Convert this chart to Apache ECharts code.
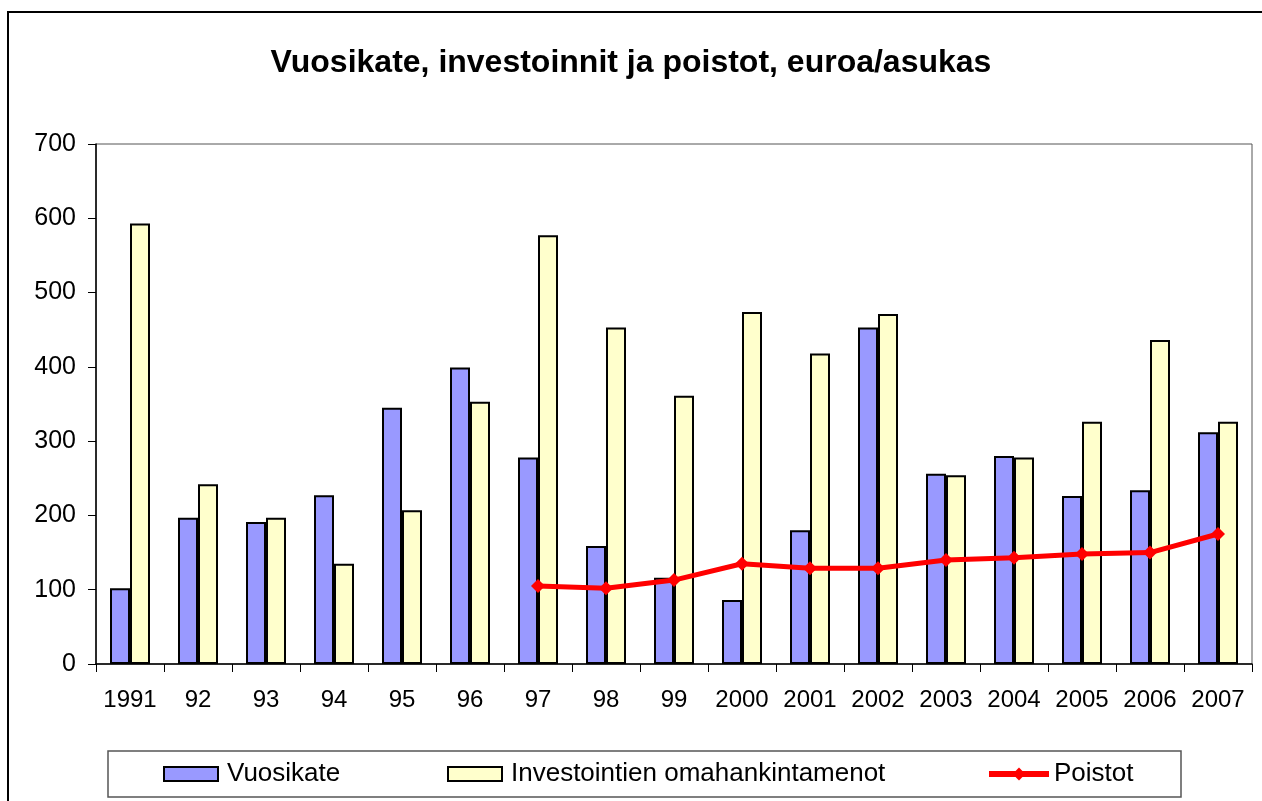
<!DOCTYPE html>
<html>
<head>
<meta charset="utf-8">
<script src="https://cdn.jsdelivr.net/npm/echarts@6/dist/echarts.min.js"></script>
<style>
  html, body { margin: 0; padding: 0; background: #fff; }
  #chart { width: 1262px; height: 801px; }
</style>
</head>
<body>
<div id="chart"></div>
<script>
// vuodet
var years = ['1991', '92', '93', '94', '95', '96', '97', '98', '99', '2000', '2001', '2002', '2003', '2004', '2005', '2006', '2007'];
// euroa/asukas
var vuosikate = [102, 197, 191, 227, 345, 399, 278, 159, 116, 86, 180, 453, 256, 280, 226, 234, 312];
var investoinnit = [593, 242, 197, 135, 207, 353, 577, 453, 361, 474, 418, 471, 254, 278, 326, 436, 326];
var poistot = ['-', '-', '-', '-', '-', '-', 105, 102, 113, 135, 129, 129, 140, 143, 148, 150, 175];
var yTicks = [0, 100, 200, 300, 400, 500, 600, 700];

var chart = echarts.init(document.getElementById('chart'));
var font = 'Liberation Sans, Arial, sans-serif';

var legendBase = {
    top: 761,
    padding: 0,
    itemHeight: 14,
    textStyle: { fontFamily: font, fontSize: 26, color: '#000', padding: [0, 0, 0, 4] }
};

var option = {
    animation: false,
    backgroundColor: '#fff',
    title: {
        text: 'Vuosikate, investoinnit ja poistot, euroa/asukas',
        left: 'center',
        top: 42,
        textStyle: { fontFamily: font, fontSize: 32, fontWeight: 'bold', color: '#000' }
    },
    // kolme erillistä legendaa, jotta sijainnit osuvat
    legend: [
        Object.assign({}, legendBase, { left: 163, itemWidth: 54, icon: 'rect', data: ['Vuosikate'] }),
        Object.assign({}, legendBase, { left: 447, itemWidth: 54, icon: 'rect', data: ['Investointien omahankintamenot'] }),
        Object.assign({}, legendBase, {
            left: 986, itemWidth: 60, itemHeight: 16, data: ['Poistot'],
            lineStyle: { width: 6, color: '#FF0000' },
            textStyle: { fontFamily: font, fontSize: 26, color: '#000', padding: [0, 0, 0, 0] }
        })
    ],
    grid: {
        left: 96, right: 10, top: 144, bottom: 137,
        show: true,
        borderColor: '#555',
        borderWidth: 1
    },
    xAxis: {
        type: 'category',
        data: years,
        axisLine: { lineStyle: { color: '#000', width: 1.5 } },
        axisTick: { show: true, length: 8, lineStyle: { color: '#000' } },
        axisLabel: { fontFamily: font, fontSize: 24, color: '#000', margin: 24, interval: 0 }
    },
    yAxis: {
        type: 'value',
        min: 0,
        max: 700,
        interval: 100,
        splitLine: { show: false },
        axisLine: { show: true, lineStyle: { color: '#000', width: 1.5 } },
        axisTick: { show: true, length: 8, lineStyle: { color: '#000' } },
        axisLabel: {
            fontFamily: font, fontSize: 25, color: '#000', margin: 20,
            formatter: function (v) { return yTicks.indexOf(v) >= 0 ? String(v) : ''; }
        }
    },
    series: [
        {
            name: 'Vuosikate',
            type: 'bar',
            data: vuosikate,
            barWidth: 20,
            barGap: '0%',
            itemStyle: { color: '#9999FF', borderColor: '#000', borderWidth: 2 }
        },
        {
            name: 'Investointien omahankintamenot',
            type: 'bar',
            data: investoinnit,
            barWidth: 20,
            barGap: '0%',
            itemStyle: { color: '#FFFFCC', borderColor: '#000', borderWidth: 2 }
        },
        {
            name: 'Poistot',
            type: 'line',
            data: poistot,
            symbol: 'diamond',
            symbolSize: 14,
            lineStyle: { color: '#FF0000', width: 5 },
            itemStyle: { color: '#FF0000' },
            z: 5
        }
    ],
    graphic: [
        {
            type: 'rect',
            shape: { x: 8, y: 12, width: 1400, height: 900 },
            style: { fill: null, stroke: '#000', lineWidth: 2 },
            silent: true
        },
        {
            type: 'rect',
            shape: { x: 108, y: 751, width: 1073, height: 46 },
            style: { fill: null, stroke: '#555', lineWidth: 1.5 },
            silent: true
        }
    ]
};

chart.setOption(option);
</script>
</body>
</html>
